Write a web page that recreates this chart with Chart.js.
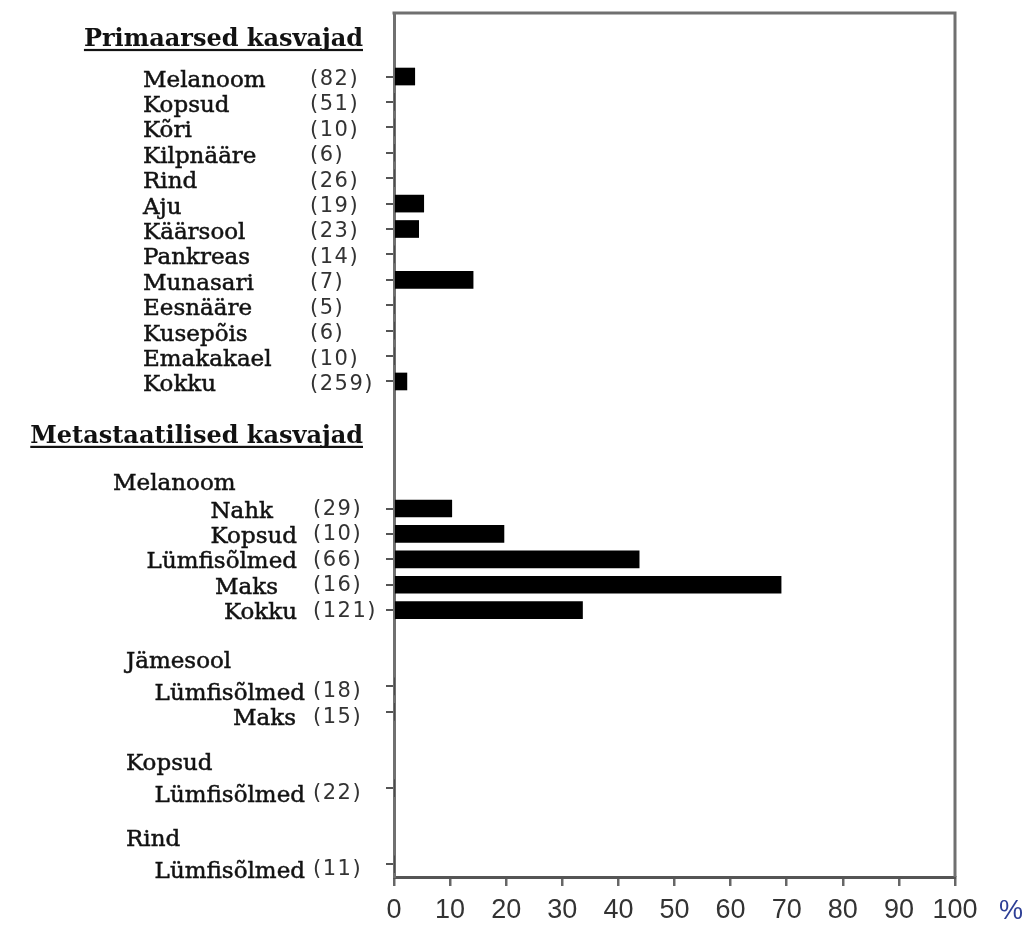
<!DOCTYPE html>
<html>
<head>
<meta charset="utf-8">
<script src="https://cdn.jsdelivr.net/npm/chart.js@4.4.1/dist/chart.umd.min.js"></script>
<style>
  html, body { margin: 0; padding: 0; background: #ffffff; }
  #wrap { width: 1031px; height: 928px; position: relative; }
  canvas { display: block; }
</style>
</head>
<body>
<div id="wrap"><canvas id="chart" width="1031" height="928"></canvas></div>
<script>
// Section titles and axis unit
const primaryTitle = 'Primaarsed kasvajad';
const metastaticTitle = 'Metastaatilised kasvajad';
const unitLabel = '%';

// Primary tumours: site, number of cases, share in %
const primaryLabels = ['Melanoom', 'Kopsud', 'Kõri', 'Kilpnääre', 'Rind', 'Aju', 'Käärsool',
                       'Pankreas', 'Munasari', 'Eesnääre', 'Kusepõis', 'Emakakael', 'Kokku'];
const primaryCounts = [82, 51, 10, 6, 26, 19, 23, 14, 7, 5, 6, 10, 259];
const primaryShares = [3.7, 0, 0, 0, 0, 5.3, 4.4, 0, 14.1, 0, 0, 0, 2.3];

// Metastatic tumours, grouped by origin
const metastaticGroups = ['Melanoom', 'Jämesool', 'Kopsud', 'Rind'];

const melanomaSites  = ['Nahk', 'Kopsud', 'Lümfisõlmed', 'Maks', 'Kokku'];
const melanomaCounts = [29, 10, 66, 16, 121];
const melanomaShares = [10.3, 19.6, 43.7, 69.0, 33.6];

const colonSites  = ['Lümfisõlmed', 'Maks'];
const colonCounts = [18, 15];
const colonShares = [0, 0];

const lungSites  = ['Lümfisõlmed'];
const lungCounts = [22];
const lungShares = [0];

const breastSites  = ['Lümfisõlmed'];
const breastCounts = [11];
const breastShares = [0];

// Value axis ticks
const percentTicks = [0, 10, 20, 30, 40, 50, 60, 70, 80, 90, 100];

// ---- build the row list used by the category axis ----
const groupSites  = [melanomaSites, colonSites, lungSites, breastSites];
const groupCounts = [melanomaCounts, colonCounts, lungCounts, breastCounts];
const groupShares = [melanomaShares, colonShares, lungShares, breastShares];

const rows = [];
rows.push({ kind: 'blank' }, { kind: 'blank' });
primaryLabels.forEach((label, i) => {
  rows.push({ kind: 'primary', label, count: primaryCounts[i], value: primaryShares[i] });
});
rows.push({ kind: 'blank' }, { kind: 'title' });
metastaticGroups.forEach((group, g) => {
  rows.push({ kind: 'blank' }, { kind: 'group', label: group, g });
  groupSites[g].forEach((label, i) => {
    rows.push({ kind: 'site', label, g, count: groupCounts[g][i], value: groupShares[g][i] });
  });
});

const rowLabels = rows.map(r => r.label || '');
const rowValues = rows.map(r => (r.value === undefined ? null : r.value));

// ---- drawing helpers ----
const SERIF = '"DejaVu Serif", serif';
const SANS = '"Liberation Sans", Arial, sans-serif';
const COUNT_FONT = '"DejaVu Sans", sans-serif';
const TEXT = '#121212';
const COUNT_TEXT = '#333333';

// a few site names sit a little left of the common right edge
const siteNudge = { '0:Nahk': -24, '0:Maks': -19, '1:Maks': -9 };

// serif text with a slightly heavier stroke
function serifText(ctx, text, x, y, align) {
  ctx.font = '23px ' + SERIF;
  ctx.textAlign = align;
  ctx.textBaseline = 'alphabetic';
  ctx.fillStyle = TEXT;
  ctx.strokeStyle = TEXT;
  ctx.lineWidth = 0.5;
  ctx.fillText(text, x, y);
  ctx.strokeText(text, x, y);
}

function drawUnderlinedTitle(ctx, text, right, baseline) {
  ctx.font = 'bold 24px ' + SERIF;
  ctx.textAlign = 'right';
  ctx.textBaseline = 'alphabetic';
  ctx.fillStyle = TEXT;
  ctx.fillText(text, right, baseline);
  const w = ctx.measureText(text).width;
  ctx.fillRect(right - w, baseline + 2.5, w, 2.2);
}

function drawCount(ctx, n, x, y) {
  ctx.save();
  ctx.font = '21px ' + COUNT_FONT;
  ctx.letterSpacing = '1.5px';
  ctx.textAlign = 'left';
  ctx.textBaseline = 'middle';
  ctx.fillStyle = COUNT_TEXT;
  ctx.fillText('(' + n + ')', x, y);
  ctx.restore();
}

const framePlugin = {
  id: 'frame',
  beforeDatasetsDraw(chart) {
    const { ctx, chartArea: a } = chart;
    ctx.save();
    ctx.strokeStyle = '#707070';
    ctx.lineWidth = 3;
    ctx.beginPath();
    ctx.moveTo(a.left - 1.5, a.top);
    ctx.lineTo(a.right, a.top);
    ctx.lineTo(a.right, a.bottom);
    ctx.stroke();
    ctx.restore();
  }
};

const labelPlugin = {
  id: 'rowLabels',
  afterDraw(chart) {
    const { ctx } = chart;
    const y = chart.scales.y;
    const x = chart.scales.x;
    ctx.save();

    // section titles
    drawUnderlinedTitle(ctx, primaryTitle, 363, y.getPixelForValue(0.5) + 8);
    const titleRow = rows.findIndex(r => r.kind === 'title');
    drawUnderlinedTitle(ctx, metastaticTitle, 363, y.getPixelForValue(titleRow) + 11);

    rows.forEach((r, i) => {
      const yc = y.getPixelForValue(i);
      if (r.kind === 'primary') {
        serifText(ctx, r.label, 143, yc + 10, 'left');
        drawCount(ctx, r.count, 310, yc + 3);
      } else if (r.kind === 'group') {
        serifText(ctx, r.label, r.g === 0 ? 113 : 126, yc + 7, 'left');
      } else if (r.kind === 'site') {
        const shift = r.g === 0 ? 0 : 4.5;
        const right = (r.g === 0 ? 297 : 305) + (siteNudge[r.g + ':' + r.label] || 0);
        serifText(ctx, r.label, right, yc + 9 + shift, 'right');
        drawCount(ctx, r.count, 313, yc + 1 + shift);
      }
    });

    // unit of the value axis
    ctx.font = '27px ' + SANS;
    ctx.textAlign = 'center';
    ctx.textBaseline = 'alphabetic';
    ctx.fillStyle = '#2e3f96';
    ctx.fillText(unitLabel, 1011, x.bottom - 9);

    ctx.restore();
  }
};

new Chart(document.getElementById('chart'), {
  type: 'bar',
  data: {
    labels: rowLabels,
    datasets: [{
      data: rowValues,
      backgroundColor: '#000000',
      borderWidth: 0,
      barThickness: 17
    }]
  },
  options: {
    indexAxis: 'y',
    responsive: false,
    animation: false,
    layout: { padding: { top: 13, right: 76, left: 0, bottom: 0 } },
    plugins: {
      legend: { display: false },
      tooltip: { enabled: false }
    },
    scales: {
      x: {
        type: 'linear',
        position: 'bottom',
        min: 0,
        max: 100,
        afterBuildTicks: s => { s.ticks = percentTicks.map(v => ({ value: v })); },
        afterFit: s => { s.height = 51; },
        ticks: {
          autoSkip: false,
          maxRotation: 0,
          padding: 8,
          color: '#333333',
          font: { family: SANS, size: 27 }
        },
        grid: {
          drawOnChartArea: false,
          drawTicks: true,
          tickLength: 9,
          color: '#666666',
          lineWidth: 2.5
        },
        border: { display: true, color: '#555555', width: 3 }
      },
      y: {
        type: 'category',
        afterFit: s => { s.width = 394; },
        ticks: { display: false, autoSkip: false },
        grid: {
          offset: false,
          drawOnChartArea: false,
          drawTicks: true,
          tickLength: 8,
          lineWidth: 2,
          color: c => (rows[c.index] && rows[c.index].count !== undefined) ? '#555555' : 'rgba(0,0,0,0)'
        },
        border: { display: true, color: '#707070', width: 3 }
      }
    }
  },
  plugins: [framePlugin, labelPlugin]
});
</script>
</body>
</html>
